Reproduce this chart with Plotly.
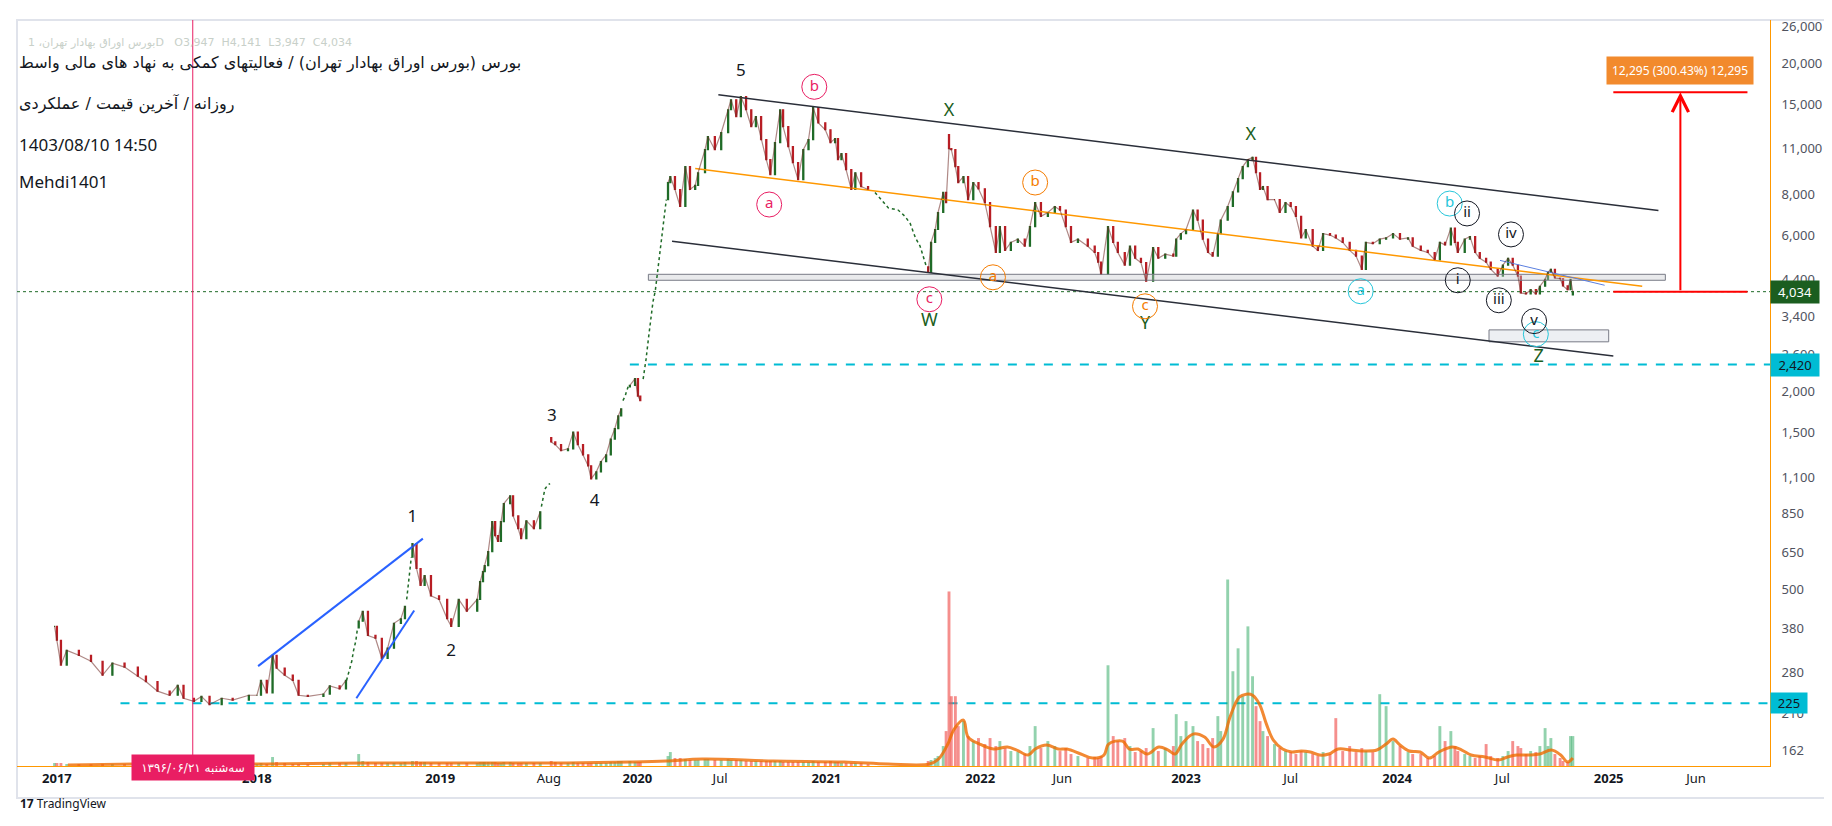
import math
import plotly.graph_objects as go

# ---- daily price path: (date, close, volume[, open]) ----
p2017 = [("2016-12-28", 386, 3), ("2017-01-01", 350, 3), ("2017-01-08", 294, 3), ("2017-01-18", 326, 2),
         ("2017-02-08", 315, 2), ("2017-03-01", 302, 2), ("2017-04-09", 274, 2), ("2017-04-26", 298, 2),
         ("2017-05-17", 290, 2), ("2017-06-09", 272, 2), ("2017-06-23", 262, 2), ("2017-07-13", 245, 2),
         ("2017-08-03", 238, 2), ("2017-08-17", 255, 2), ("2017-08-27", 233, 2), ("2017-09-14", 228, 2),
         ("2017-09-27", 236, 2), ("2017-10-11", 223, 2), ("2017-11-01", 233, 2), ("2017-11-20", 230, 2),
         ("2017-12-18", 238, 2)]
p2018 = [("2018-01-01", 238, 2), ("2018-01-08", 264, 3), ("2018-01-18", 242, 2), ("2018-01-28", 315, 9),
         ("2018-02-04", 288, 4), ("2018-02-18", 274, 3), ("2018-03-04", 264, 2), ("2018-03-14", 238, 2),
         ("2018-05-17", 236, 2), ("2018-06-13", 240, 2), ("2018-06-24", 254, 3), ("2018-07-11", 249, 3),
         ("2018-07-22", 264, 3),
         ("2018-08-13", 400, 12), ("2018-08-20", 429, 5), ("2018-08-29", 362, 4), ("2018-09-11", 355, 3),
         ("2018-09-22", 308, 3), ("2018-10-02", 331, 3), ("2018-10-13", 394, 3), ("2018-10-25", 407, 3),
         ("2018-11-01", 444, 4),
         ("2018-11-14", 689, 5), ("2018-11-21", 579, 5), ("2018-11-28", 514, 4), ("2018-12-05", 551, 4),
         ("2018-12-16", 478, 3), ("2018-12-30", 466, 3)]
p2019 = [("2019-01-13", 407, 3), ("2019-01-20", 386, 3), ("2019-02-02", 466, 3), ("2019-02-16", 429, 3),
         ("2019-03-06", 466, 3), ("2019-03-11", 528, 4), ("2019-03-16", 566, 4), ("2019-03-19", 591, 4),
         ("2019-04-18", 652, 4), ("2019-04-25", 804, 4), ("2019-04-30", 729, 4), ("2019-05-05", 700, 3),
         ("2019-05-10", 804, 3), ("2019-05-15", 913, 4), ("2019-05-26", 964, 4), ("2019-05-31", 837, 3),
         ("2019-06-09", 765, 3), ("2019-06-14", 714, 3), ("2019-06-23", 809, 3), ("2019-07-06", 765, 3),
         ("2019-07-17", 862, 3),
         ("2019-08-05", 1406, 5, 1450), ("2019-08-12", 1380, 4), ("2019-08-22", 1323, 3), ("2019-09-03", 1340, 3),
         ("2019-09-12", 1507, 4), ("2019-09-20", 1380, 3), ("2019-09-29", 1284, 3), ("2019-10-08", 1189, 3),
         ("2019-10-13", 1086, 3), ("2019-10-22", 1140, 3), ("2019-10-30", 1225, 3), ("2019-11-08", 1284, 3),
         ("2019-11-16", 1435, 4), ("2019-11-23", 1543, 4), ("2019-11-29", 1688, 5), ("2019-12-04", 1775, 5),
         ("2019-12-19", 2091, 5), ("2019-12-28", 2192, 4)]
p2020 = [("2020-01-02", 1940, 4), ("2020-01-06", 1880, 4),
         ("2020-02-23", 8670, 10), ("2020-02-27", 9040, 14), ("2020-03-06", 8260, 8), ("2020-03-15", 7330, 8),
         ("2020-05-02", 9700, 7), ("2020-05-10", 8260, 6), ("2020-05-19", 8500, 6), ("2020-05-24", 9290, 6),
         ("2020-06-05", 10920, 7), ("2020-06-10", 11970, 7), ("2020-06-22", 10920, 6), ("2020-07-03", 12300, 6),
         ("2020-07-15", 14450, 7), ("2020-07-20", 15500, 6), ("2020-07-29", 13770, 6), ("2020-08-06", 15850, 6),
         ("2020-08-15", 14450, 5), ("2020-08-24", 12830, 5), ("2020-09-01", 13770, 5), ("2020-09-10", 11720, 5),
         ("2020-09-19", 10190, 5), ("2020-09-26", 9170, 5), ("2020-10-04", 11480, 5), ("2020-10-13", 14450, 5),
         ("2020-10-18", 12830, 4), ("2020-10-27", 11150, 4), ("2020-11-04", 9970, 4), ("2020-11-13", 8850, 4),
         ("2020-11-22", 10920, 4), ("2020-12-01", 11720, 4), ("2020-12-09", 14660, 5), ("2020-12-18", 13180, 4),
         ("2020-12-30", 12560, 4)]
p2021 = [("2021-01-08", 11480, 5), ("2021-01-16", 11800, 4), ("2021-01-21", 10190, 4), ("2021-01-27", 10620, 3),
         ("2021-02-04", 9500, 3), ("2021-02-13", 8260, 3), ("2021-02-20", 9290, 3), ("2021-03-02", 8430, 3),
         ("2021-03-14", 8260, 2),
         ("2021-10-03", 4620, 5), ("2021-10-08", 5700, 6), ("2021-10-15", 6240, 8), ("2021-10-20", 7030, 10),
         ("2021-10-29", 8090, 20), ("2021-11-03", 7530, 35), ("2021-11-08", 11000, 175, 12130),
         ("2021-11-12", 10920, 70), ("2021-11-19", 9700, 70), ("2021-11-24", 8670, 40), ("2021-12-03", 9040, 45),
         ("2021-12-11", 7690, 30), ("2021-12-20", 8670, 25), ("2021-12-29", 8300, 28)]
p2022 = [("2022-01-09", 7530, 22), ("2022-01-18", 6370, 28), ("2022-01-28", 5310, 20), ("2022-02-04", 6370, 25),
         ("2022-02-13", 5390, 18), ("2022-02-23", 5700, 15), ("2022-03-07", 5830, 14), ("2022-03-19", 5550, 12),
         ("2022-04-06", 6370, 20), ("2022-04-15", 7530, 40), ("2022-04-25", 6840, 18), ("2022-05-07", 7030, 25),
         ("2022-05-19", 7330, 20), ("2022-05-28", 7150, 15), ("2022-06-07", 6370, 18), ("2022-06-16", 5700, 12),
         ("2022-06-28", 5830, 10), ("2022-07-15", 5550, 8), ("2022-07-27", 5310, 9), ("2022-08-02", 4960, 8),
         ("2022-08-07", 4560, 10), ("2022-08-19", 6370, 101), ("2022-08-28", 5700, 30), ("2022-09-05", 5310, 25),
         ("2022-09-17", 4860, 28), ("2022-09-26", 5550, 20), ("2022-10-05", 5100, 14), ("2022-10-15", 4950, 15),
         ("2022-10-24", 4340, 18), ("2022-11-05", 5500, 38), ("2022-11-14", 5100, 15), ("2022-11-26", 5250, 18),
         ("2022-12-10", 5180, 20), ("2022-12-15", 5830, 52), ("2022-12-23", 6060, 30)]
p2023 = [("2023-01-01", 6240, 45), ("2023-01-13", 7150, 40), ("2023-01-21", 6660, 25), ("2023-01-30", 5830, 22),
         ("2023-02-08", 5310, 18), ("2023-02-16", 5180, 28), ("2023-02-25", 6060, 50), ("2023-03-02", 6660, 35),
         ("2023-03-14", 7330, 187), ("2023-03-23", 8120, 95), ("2023-04-01", 8920, 118), ("2023-04-09", 9700, 70),
         ("2023-04-18", 10190, 140), ("2023-04-26", 10350, 90), ("2023-05-02", 9290, 60), ("2023-05-09", 8260, 45),
         ("2023-05-14", 8430, 35), ("2023-05-22", 7690, 30), ("2023-06-03", 7690, 22), ("2023-06-12", 7030, 18),
         ("2023-06-22", 7530, 15), ("2023-07-01", 7330, 14), ("2023-07-10", 6840, 12), ("2023-07-19", 5880, 15),
         ("2023-07-27", 6240, 14), ("2023-08-08", 5550, 12), ("2023-08-17", 5390, 10), ("2023-08-26", 6060, 14),
         ("2023-09-07", 6000, 12), ("2023-09-17", 5880, 48), ("2023-09-29", 5700, 15), ("2023-10-11", 5390, 20),
         ("2023-10-22", 5180, 14), ("2023-11-01", 4720, 18), ("2023-11-08", 5700, 15), ("2023-11-20", 5650, 14),
         ("2023-12-02", 5830, 72), ("2023-12-13", 5880, 60), ("2023-12-25", 6060, 25)]
p2024 = [("2024-01-06", 5830, 20), ("2024-01-20", 5880, 14), ("2024-01-28", 5550, 12), ("2024-02-11", 5390, 12),
         ("2024-02-23", 5310, 8), ("2024-03-06", 5040, 10), ("2024-03-15", 5700, 40), ("2024-03-24", 5600, 25),
         ("2024-04-03", 6300, 35), ("2024-04-10", 5700, 20), ("2024-04-15", 5310, 15), ("2024-04-27", 5830, 12),
         ("2024-05-06", 5940, 10), ("2024-05-15", 5310, 8), ("2024-05-23", 5100, 10), ("2024-06-03", 4960, 22),
         ("2024-06-11", 4720, 10), ("2024-06-23", 4500, 8), ("2024-07-02", 4860, 10), ("2024-07-11", 5100, 15),
         ("2024-07-19", 4860, 25), ("2024-07-28", 4500, 20), ("2024-08-02", 4000, 18), ("2024-08-11", 3970, 12),
         ("2024-08-19", 4090, 15), ("2024-08-28", 3970, 14), ("2024-09-04", 4190, 20), ("2024-09-13", 4400, 38),
         ("2024-09-18", 4620, 20), ("2024-09-23", 4720, 28), ("2024-09-30", 4440, 12), ("2024-10-09", 4420, 8),
         ("2024-10-14", 4200, 5), ("2024-10-22", 4090, 4), ("2024-10-27", 4400, 30), ("2024-10-31", 4034, 30, 3947)]

# limit-move runs that TradingView draws as a dotted trail of one-price bars
dots_2018a = [("2018-07-23", 264), ("2018-07-27", 280), ("2018-08-01", 302), ("2018-08-04", 325),
              ("2018-08-08", 348), ("2018-08-11", 382)]
dots_2018b = [("2018-11-04", 466), ("2018-11-07", 528), ("2018-11-10", 579), ("2018-11-12", 627)]
dots_2019a = [("2019-07-19", 893), ("2019-07-22", 958), ("2019-07-25", 1010), ("2019-07-30", 1040),
              ("2019-08-03", 1050)]
dots_2019b = [("2019-12-07", 1880), ("2019-12-11", 1941), ("2019-12-13", 2000), ("2019-12-16", 2070)]
dots_2020 = [("2020-01-11", 2186), ("2020-01-14", 2350), ("2020-01-16", 2510), ("2020-01-20", 2890),
             ("2020-01-23", 3170), ("2020-01-25", 3490), ("2020-01-28", 3760), ("2020-02-01", 4060),
             ("2020-02-06", 4830), ("2020-02-10", 5390), ("2020-02-15", 6390), ("2020-02-20", 7690)]
dots_2021 = [("2021-07-03", 8090), ("2021-07-14", 7690), ("2021-07-26", 7260), ("2021-08-12", 7150),
             ("2021-08-24", 6840), ("2021-09-02", 6500), ("2021-09-11", 5880), ("2021-09-19", 5550),
             ("2021-09-24", 5180), ("2021-09-30", 4800)]

# orange volume moving average
vol_ma = [("2017-01-20", 1), ("2017-06-01", 2), ("2018-01-15", 2), ("2018-09-01", 3), ("2019-03-01", 3),
          ("2019-09-01", 3), ("2019-12-20", 4), ("2020-02-20", 5), ("2020-06-01", 7), ("2020-10-01", 5),
          ("2021-02-01", 4), ("2021-07-26", 2), ("2021-10-05", 2), ("2021-10-21", 7), ("2021-11-06", 22),
          ("2021-11-17", 37), ("2021-12-03", 46), ("2021-12-11", 29), ("2021-12-31", 22), ("2022-01-24", 17),
          ("2022-02-17", 19), ("2022-03-05", 16), ("2022-04-03", 11), ("2022-04-15", 17), ("2022-05-05", 21),
          ("2022-05-25", 17), ("2022-06-09", 17), ("2022-07-03", 12), ("2022-07-23", 8), ("2022-08-12", 11),
          ("2022-08-20", 22), ("2022-09-13", 25), ("2022-09-25", 17), ("2022-10-10", 17), ("2022-10-26", 12),
          ("2022-11-15", 19), ("2022-12-01", 16), ("2022-12-13", 12), ("2022-12-25", 22), ("2023-01-13", 32),
          ("2023-02-02", 29), ("2023-02-18", 19), ("2023-03-06", 27), ("2023-03-18", 49), ("2023-04-03", 69),
          ("2023-04-15", 72), ("2023-04-26", 71), ("2023-05-08", 62), ("2023-05-20", 42), ("2023-06-01", 26),
          ("2023-06-17", 17), ("2023-07-03", 14), ("2023-07-19", 15), ("2023-08-04", 14), ("2023-08-20", 11),
          ("2023-09-05", 12), ("2023-09-21", 17), ("2023-10-14", 16), ("2023-11-07", 15), ("2023-11-27", 16),
          ("2023-12-13", 22), ("2023-12-25", 27), ("2024-01-06", 21), ("2024-01-22", 15), ("2024-02-10", 14),
          ("2024-02-26", 8), ("2024-03-13", 14), ("2024-04-06", 19), ("2024-04-22", 16), ("2024-05-08", 11),
          ("2024-06-01", 9), ("2024-06-24", 6), ("2024-07-10", 9), ("2024-07-26", 11), ("2024-08-19", 11),
          ("2024-09-04", 12), ("2024-09-24", 16), ("2024-10-10", 11), ("2024-10-22", 4), ("2024-10-31", 8)]

# elliott wave labels (text, date, price)
wave_nums = [("1", "2018-11-14", 827), ("2", "2019-01-20", 322), ("3", "2019-08-06", 1676),
             ("4", "2019-10-19", 925), ("5", "2020-08-06", 18850)]
wave_wxyz = [("W", "2021-10-05", 3281), ("X", "2021-11-08", 14250), ("Y", "2022-10-22", 3212),
             ("X", "2023-04-23", 12043), ("Z", "2024-09-02", 2550)]
circ_pink = [("a", "2020-09-24", 7434), ("b", "2020-12-11", 16970), ("c", "2021-10-05", 3825)]
circ_orange = [("a", "2022-01-23", 4462), ("b", "2022-04-15", 8673), ("c", "2022-10-22", 3641)]
circ_cyan = [("a", "2023-10-30", 4046), ("b", "2024-04-01", 7485), ("c", "2024-08-28", 2995)]
circ_roman = [("i", "2024-04-15", 4370), ("ii", "2024-05-01", 6982), ("iii", "2024-06-25", 3798),
              ("iv", "2024-07-16", 6027), ("v", "2024-08-25", 3281)]

# drawings: (start date, start price, end date, end price)
wedge_up = ("2018-01-03", 292, "2018-12-02", 714)
wedge_low = ("2018-08-09", 233, "2018-11-17", 431)
chan_up = ("2020-06-28", 16050, "2025-03-28", 7130)
chan_low = ("2020-03-01", 5741, "2025-01-09", 2568)
chan_mid = ("2020-05-19", 9563, "2025-02-28", 4190)
short_res = ("2024-06-27", 5024, "2024-12-25", 4220)
zone_box = ("2020-01-20", 4370, "2025-04-09", 4557)
target_box = ("2024-06-08", 2838, "2025-01-01", 3086)
measure = ("2025-01-09", "2025-05-05", "2025-08-29", 4034, 16329)
support_lo = ("2017-05-10", 225)
support_hi = ("2019-12-19", 2420)
marker_day = "2017-09-12"

X0, X1 = "2016-10-24", "2025-10-07"
Y0, Y1 = 144.9, 27115
BREAKS = [["2017-03-20", "2017-04-08"], ["2018-03-20", "2018-05-07"], ["2019-03-20", "2019-04-13"],
          ["2020-03-20", "2020-04-28"], ["2021-03-20", "2021-06-27"], ["2022-03-20", "2022-03-29"]]
price_ticks = [162, 210, 280, 380, 500, 650, 850, 1100, 1500, 2000, 2600, 3400, 4400,
               6000, 8000, 11000, 15000, 20000, 26000]
x_ticks = ["2017-01-01", "2018-01-01", "2019-01-01", "2019-08-01", "2020-01-01", "2020-07-01",
           "2021-01-01", "2022-01-01", "2022-06-01", "2023-01-01", "2023-07-01", "2024-01-01",
           "2024-07-01", "2025-01-01", "2025-06-01"]
x_labels = ["<b>2017</b>", "<b>2018</b>", "<b>2019</b>", "Aug", "<b>2020</b>", "Jul", "<b>2021</b>",
            "<b>2022</b>", "Jun", "<b>2023</b>", "Jul", "<b>2024</b>", "Jul", "<b>2025</b>", "Jun"]

GREEN, RED = "#1f6b27", "#b81d24"
CYAN = "#00bcd4"
FONT = "Noto Sans"
FA = "DejaVu Sans"

rows = p2017 + p2018 + p2019 + p2020 + p2021 + p2022 + p2023 + p2024
dot_runs = [dots_2018a, dots_2018b, dots_2019a, dots_2019b, dots_2020, dots_2021]

# open = close of whatever bar came before (candle or dotted run)
seq = sorted([(r[0], r[1]) for r in rows] + [p for run in dot_runs for p in run])
prev_close, last = {}, None
for d, c in seq:
    prev_close[d] = c if last is None else last
    last = c

dates = [r[0] for r in rows]
closes = [r[1] for r in rows]
vols = [r[2] for r in rows]
opens = [r[3] if len(r) > 3 else prev_close[r[0]] for r in rows]
highs = [max(o, c) for o, c in zip(opens, closes)]
lows = [min(o, c) for o, c in zip(opens, closes)]
vcol = ["rgba(38,166,91,0.5)" if c >= o else "rgba(239,83,80,0.65)" for o, c in zip(opens, closes)]

fig = go.Figure()

fig.add_bar(x=dates, y=vols, marker_color=vcol, marker_line_width=0, width=5 * 86400000,
            yaxis="y2", hoverinfo="skip")
fig.add_scatter(x=[d for d, _ in vol_ma], y=[v for _, v in vol_ma], mode="lines", yaxis="y2",
                line=dict(color="rgba(239,108,0,0.8)", width=3, shape="spline"), hoverinfo="skip")


def seg(p, color, width=1.5, dash=None):
    fig.add_scatter(x=[p[0], p[2]], y=[p[1], p[3]], mode="lines",
                    line=dict(color=color, width=width, dash=dash), hoverinfo="skip")


def box(p, fill, edge):
    fig.add_scatter(x=[p[0], p[2], p[2], p[0], p[0]], y=[p[1], p[1], p[3], p[3], p[1]], mode="lines",
                    fill="toself", fillcolor=fill, line=dict(color=edge, width=1), hoverinfo="skip")


# horizontal reference lines
fig.add_scatter(x=[support_lo[0], X1], y=[support_lo[1]] * 2, mode="lines",
                line=dict(color=CYAN, width=2, dash="dash"), hoverinfo="skip")
fig.add_scatter(x=[support_hi[0], X1], y=[support_hi[1]] * 2, mode="lines",
                line=dict(color=CYAN, width=2, dash="dash"), hoverinfo="skip")
fig.add_scatter(x=[X0, X1], y=[closes[-1]] * 2, mode="lines",
                line=dict(color=GREEN, width=1, dash="dot"), hoverinfo="skip")
fig.add_scatter(x=[marker_day, marker_day], y=[Y0, Y1], mode="lines",
                line=dict(color="#e91e63", width=1), hoverinfo="skip")

box(zone_box, "rgba(200,202,208,0.4)", "#787b86")
box(target_box, "rgba(225,228,235,0.6)", "#787b86")

seg(wedge_up, "#2962ff", 2)
seg(wedge_low, "#2962ff", 2)
seg(chan_up, "#2a2e39", 1.5)
seg(chan_low, "#2a2e39", 1.5)
seg(chan_mid, "#ff9800", 1.5)
seg(short_res, "#5b7fe0", 1)

# dotted one-price runs
for run in dot_runs:
    fig.add_scatter(x=[d for d, _ in run], y=[v for _, v in run], mode="lines",
                    line=dict(color=GREEN, width=1.5, dash="dot"), hoverinfo="skip")

# thin path under the candles so the dense daily bars read as one ragged band
for part in [p2017 + p2018[:13], p2018[13:22], p2018[22:] + p2019[:21], p2019[21:37], p2019[37:] + p2020[:2],
             p2020[2:] + p2021[:9], p2021[9:] + p2022 + p2023 + p2024]:
    fig.add_scatter(x=[r[0] for r in part], y=[r[1] for r in part], mode="lines",
                    line=dict(color="rgba(110,40,35,0.55)", width=1.2), hoverinfo="skip")

fig.add_candlestick(x=dates, open=opens, high=highs, low=lows, close=closes, whiskerwidth=0,
                    increasing=dict(line=dict(color=GREEN, width=1.2), fillcolor=GREEN),
                    decreasing=dict(line=dict(color=RED, width=1.2), fillcolor=RED), hoverinfo="skip")

# measure projection
m = measure
fig.add_scatter(x=[m[0], m[2]], y=[m[3], m[3]], mode="lines", line=dict(color="#ff0000", width=2),
                hoverinfo="skip")
fig.add_scatter(x=[m[0], m[2]], y=[m[4], m[4]], mode="lines", line=dict(color="#ff0000", width=2),
                hoverinfo="skip")


def labels(items, color, size):
    fig.add_scatter(x=[i[1] for i in items], y=[i[2] for i in items], mode="text",
                    text=[i[0] for i in items], textposition="middle center",
                    textfont=dict(family=FONT, size=size, color=color), hoverinfo="skip")


def circled(items, color):
    fig.add_scatter(x=[i[1] for i in items], y=[i[2] for i in items], mode="markers+text",
                    text=[i[0] for i in items], textposition="middle center",
                    marker=dict(symbol="circle-open", size=25, color=color, line=dict(width=1)),
                    textfont=dict(family=FONT, size=15, color=color), hoverinfo="skip")


labels(wave_nums, "#131722", 17)
labels(wave_wxyz, "#1b5e20", 18)
circled(circ_pink, "#e91e63")
circled(circ_orange, "#f57c00")
circled(circ_cyan, "#26c6da")
circled(circ_roman, "#131722")

ann = []
ann.append(dict(x=m[1], y=math.log10(m[4]), ax=m[1], ay=math.log10(m[3]), xref="x", yref="y",
                axref="x", ayref="y", showarrow=True, arrowhead=5, arrowsize=1.6, arrowwidth=2,
                arrowcolor="#ff0000", text=""))
ann.append(dict(x=m[1], y=math.log10(18980), xref="x", yref="y", showarrow=False,
                text="12,295 (300.43%) 12,295", font=dict(family=FONT, size=12, color="white"),
                bgcolor="#f28a2d", borderpad=5))

# right-axis price tags
for val, txt, bg, fg, w, h in [(closes[-1], "4,034", "#1b5e20", "white", 44, 18),
                               (support_hi[1], "2,420", CYAN, "#131722", 44, 18),
                               (support_lo[1], "225", CYAN, "#131722", 32, 16)]:
    ann.append(dict(x=1, xref="paper", xanchor="left", y=math.log10(val), yref="y", showarrow=False,
                    text=txt, font=dict(family=FONT, size=13, color=fg), bgcolor=bg, borderpad=2,
                    width=w, height=h, align="center"))

ann.append(dict(x=marker_day, xref="x", y=-0.0207, yref="paper", showarrow=False,
                text="سه‌شنبه ۱۳۹۶/۰۶/۲۱", font=dict(family=FA, size=12, color="white"),
                bgcolor="#e91e63", width=116, height=19, borderpad=3))

# header block
ann.append(dict(x=0, xref="paper", xshift=9, y=0.9813, yref="paper", xanchor="left", showarrow=False,
                text="بورس اوراق بهادار تهران، 1D   O3,947  H4,141  L3,947  C4,034",
                font=dict(family=FA, size=11, color="#c8d0c9")))
head = [("بورس (بورس اوراق بهادار تهران) / فعالیتهای کمکی به نهاد های مالی واسط", 0.9586, FA, 16),
        ("روزانه / آخرین قیمت / عملکردی", 0.9037, FA, 16),
        ("1403/08/10 14:50", 0.8516, FONT, 17),
        ("Mehdi1401", 0.8021, FONT, 17)]
for txt, yy, fam, sz in head:
    ann.append(dict(x=0, xref="paper", xshift=0, y=yy, yref="paper", xanchor="left", showarrow=False,
                    text=txt, font=dict(family=fam, size=sz, color="#131722")))
ann.append(dict(x=0, xref="paper", xshift=1, y=-0.0642, yref="paper", xanchor="left", showarrow=False,
                text="<b>17</b> TradingView", font=dict(family=FONT, size=12, color="#131722")))

frame = dict(type="rect", xref="paper", yref="paper", x0=0, x1=1.0342, y0=-0.0428, y1=1,
             line=dict(color="#e0e3eb", width=2), layer="below")

fig.update_layout(
    width=1832, height=826, margin=dict(l=9, r=70, t=10, b=68),
    paper_bgcolor="white", plot_bgcolor="white", showlegend=False, boxgap=0.1,
    annotations=ann, shapes=[frame],
    xaxis=dict(type="date", range=[X0, X1], rangebreaks=[dict(bounds=b) for b in BREAKS],
               tickvals=x_ticks, ticktext=x_labels, showgrid=False, zeroline=False,
               showline=True, linecolor="#ff9800", linewidth=1, ticks="",
               tickfont=dict(family=FONT, size=13, color="#131722"),
               rangeslider=dict(visible=False)),
    yaxis=dict(type="log", range=[math.log10(Y0), math.log10(Y1)], side="right",
               tickvals=price_ticks, ticktext=[f"{v:,}" for v in price_ticks],
               showgrid=False, zeroline=False, showline=True, linecolor="#ff9800", linewidth=1,
               ticks="", ticklabelstandoff=8, tickfont=dict(family=FONT, size=13, color="#50535e")),
    yaxis2=dict(overlaying="y", range=[0, 748], visible=False),
)

fig.write_html("out.html")
